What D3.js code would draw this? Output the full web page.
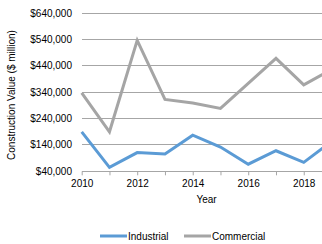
<!DOCTYPE html>
<html><head><meta charset="utf-8">
<script src="https://cdn.jsdelivr.net/npm/d3@7"></script>
<style>body{margin:0;background:#fff;overflow:hidden}svg{display:block;font-family:"Liberation Sans",Arial,sans-serif}</style>
</head><body>
<svg id="c" width="322" height="244"></svg>
<script>
const years = [2010,2011,2012,2013,2014,2015,2016,2017,2018,2019];
const industrial = [190000,55000,111000,106000,177000,132000,67000,118000,74000,153000];
const commercial = [338000,190000,537000,313000,299000,279000,374000,469000,368000,427000];
const yTicks = [40000,140000,240000,340000,440000,540000,640000];
const xTicks = [2010,2012,2014,2016,2018];
const seriesNames = ["Industrial","Commercial"];
const colors = ["#5b9bd5","#a5a5a5"];

const svg = d3.select("#c");
const x = d3.scaleLinear().domain([2010,2019]).range([81.7,331.5]);
const y = d3.scaleLinear().domain([40000,640000]).range([171.3,13.3]);
const fmt = v => "$" + d3.format(",")(v);

// gridlines
svg.append("g").selectAll("line").data(yTicks.slice(1)).join("line")
  .attr("x1",x(2010)).attr("x2",x(2019)).attr("y1",d=>y(d)).attr("y2",d=>y(d))
  .attr("stroke","#a6a6a6").attr("stroke-width",1).attr("shape-rendering","crispEdges");

// y labels
svg.append("g").selectAll("text").data(yTicks).join("text")
  .attr("x",72).attr("y",d=>y(d)).attr("dy","0.35em").attr("text-anchor","end")
  .attr("font-size",10).attr("fill","#000").text(fmt);

// x axis
const xa = svg.append("g").attr("transform",`translate(0,${y(40000)})`)
  .call(d3.axisBottom(x).tickValues(years).tickSize(4).tickSizeOuter(0).tickFormat(d=>xTicks.includes(d)?d:""));
xa.select(".domain").attr("stroke","#a6a6a6").attr("shape-rendering","crispEdges");
xa.selectAll(".tick line").attr("stroke","#a6a6a6");
xa.selectAll(".tick text").attr("font-size",10).attr("font-family","Liberation Sans, Arial, sans-serif").attr("fill","#000").attr("dy","0.9em");

// titles
svg.append("text").attr("x",x(2014.5)).attr("y",203).attr("text-anchor","middle")
  .attr("font-size",10).text("Year");
svg.append("text").attr("transform","translate(15,95) rotate(-90)").attr("text-anchor","middle")
  .attr("font-size",10).text("Construction Value ($ million)");

// lines
const line = d3.line().x((d,i)=>x(years[i])).y(d=>y(d));
[industrial,commercial].forEach((s,k)=>{
  svg.append("path").datum(s).attr("d",line).attr("fill","none")
    .attr("stroke",colors[k]).attr("stroke-width",3).attr("stroke-linejoin","miter");
});

// legend
const leg = svg.append("g");
const lx = [100,184];
seriesNames.forEach((n,k)=>{
  leg.append("line").attr("x1",lx[k]).attr("x2",lx[k]+27).attr("y1",236).attr("y2",236)
    .attr("stroke",colors[k]).attr("stroke-width",3);
  leg.append("text").attr("x",lx[k]+28).attr("y",236).attr("dy","0.35em")
    .attr("font-size",10).text(n);
});
</script>
</body></html>
